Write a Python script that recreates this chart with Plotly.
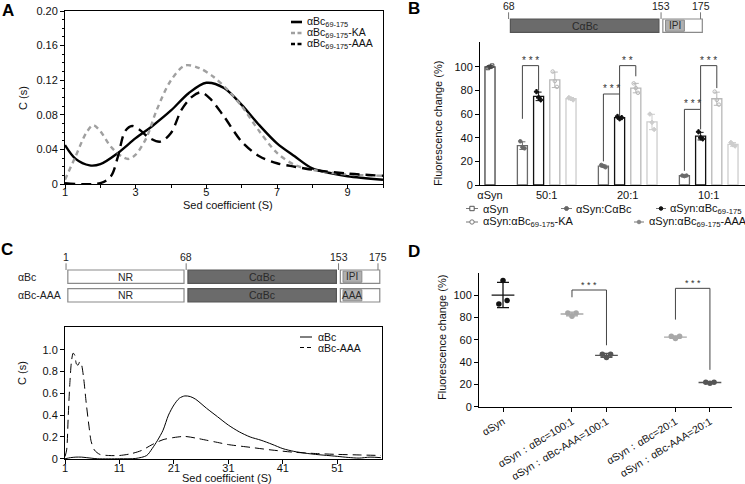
import numpy as np
import plotly.graph_objects as go

W, H = 745, 484
FONT = "Liberation Sans, Arial, Helvetica, sans-serif"


def px(x):
    return x / W


def py(y):
    return 1 - y / H


# ---------------- Panel A : sedimentation (alphaBc 69-175 variants) ----------------
A_SOLID_X = [1.0, 1.3, 1.7, 2.0, 2.5, 3.0, 3.5, 4.0, 4.5, 5.0, 5.5, 6.0, 6.5, 7.0, 7.5, 8.0, 8.5, 9.0, 10.0]
A_SOLID_Y = [0.045, 0.029, 0.0215, 0.023, 0.036, 0.053, 0.068, 0.085, 0.105, 0.117, 0.111, 0.0915, 0.068,
             0.047, 0.032, 0.018, 0.0127, 0.009, 0.005]
A_KA_X = [1.0, 1.3, 1.6, 1.8, 2.0, 2.3, 2.6, 2.8, 3.0, 3.3, 3.6, 4.0, 4.4, 4.8, 5.2, 5.6, 6.0, 6.5, 7.0, 7.5,
          8.0, 9.0, 10.0]
A_KA_Y = [0.005, 0.032, 0.059, 0.068, 0.061, 0.043, 0.032, 0.029, 0.034, 0.053, 0.086, 0.120, 0.137, 0.134,
          0.124, 0.109, 0.090, 0.061, 0.036, 0.022, 0.0165, 0.011, 0.0096]
A_AAA_X = [1.0, 2.0, 2.3, 2.5, 2.7, 2.9, 3.1, 3.4, 3.7, 4.0, 4.3, 4.6, 4.85, 5.1, 5.5, 6.0, 6.5, 7.0, 7.5,
           8.0, 9.0, 10.0]
A_AAA_Y = [0.001, 0.001, 0.009, 0.032, 0.061, 0.067, 0.063, 0.053, 0.049, 0.059, 0.086, 0.101, 0.106, 0.099,
           0.078, 0.049, 0.032, 0.024, 0.020, 0.0165, 0.012, 0.0096]
A_XTICKS = [1, 3, 5, 7, 9]
A_YTICKS = [0, 0.04, 0.08, 0.12, 0.16, 0.20]
A_YTEXT = ["0", "0.04", "0.08", "0.12", "0.16", "0.20"]
A_NAMES = ["αBc<sub>69-175</sub>", "αBc<sub>69-175</sub>-KA", "αBc<sub>69-175</sub>-AAA"]

# ---------------- Panel B : fluorescence bars ----------------
B_GROUPS = ["50:1", "20:1", "10:1"]
B_ASYN = [99, 100, 101]
B_CABC = [[37, 32, 31], [17, 16, 15], [8, 7.5, 8]]
B_ABC = [[79, 74, 72], [58, 56, 57], [45, 40, 39]]
B_KA = [[96, 88, 83], [86, 82, 78], [79, 72, 68]]
B_AAA = [[74, 73, 72], [60, 53, 47], [36, 34, 33]]
B_YTICKS = [0, 20, 40, 60, 80, 100]
B_NAMES = ["αSyn", "αSyn:CαBc", "αSyn:αBc<sub>69-175</sub>", "αSyn:αBc<sub>69-175</sub>-KA",
           "αSyn:αBc<sub>69-175</sub>-AAA"]
# significance brackets: (left bar, right bar, top, left end, right end, label)
B_BRACKETS = [
    ((0, 0), (0, 1), 101, 56, 80, "* * *"),
    ((1, 0), (1, 1), 77, 20, 58, "* * *"),
    ((1, 1), (1, 2), 101, 77, 92, "* *"),
    ((2, 0), (2, 1), 64, 12, 47, "* * *"),
    ((2, 1), (2, 2), 101, 64, 82, "* * *"),
]

# domain map (residue numbers)
DOMAIN_BOUNDS = [1, 68, 153, 175]
IPI_SPAN = [155.5, 166]

# ---------------- Panel C : sedimentation full length ----------------
C_ABC_X = [1, 2, 3, 4, 5, 7, 11, 14, 16, 17, 18, 19, 20, 21, 22, 23, 24, 25, 27, 29, 31, 33, 35, 37, 39, 41,
           43, 45, 47, 49, 51, 53, 55, 57, 59]
C_ABC_Y = [0.0, 0.01, 0.015, 0.015, 0.01, 0.0, 0.0, 0.003, 0.03, 0.093, 0.17, 0.262, 0.401, 0.494, 0.556,
           0.577, 0.571, 0.546, 0.463, 0.386, 0.309, 0.247, 0.200, 0.170, 0.133, 0.093, 0.068, 0.052, 0.040,
           0.031, 0.022, 0.012, 0.006, 0.015, 0.01]
C_AAA_X = [1.0, 1.3, 1.6, 1.9, 2.2, 2.5, 2.8, 3.1, 3.4, 3.7, 4.0, 4.4, 4.9, 5.4, 5.8, 6.4, 7.4, 9, 11, 13, 15,
           17, 19, 21, 23, 25, 27, 29, 31, 35, 39, 43, 47, 51, 55, 59]
C_AAA_Y = [0.02, 0.08, 0.40, 0.70, 0.90, 0.97, 0.95, 0.87, 0.86, 0.89, 0.87, 0.75, 0.51, 0.30, 0.16, 0.08,
           0.04, 0.03, 0.03, 0.045, 0.075, 0.13, 0.175, 0.195, 0.205, 0.19, 0.17, 0.15, 0.13, 0.105, 0.08,
           0.06, 0.048, 0.04, 0.035, 0.03]
C_XTICKS = [1, 11, 21, 31, 41, 51]
C_YTICKS = [0, 0.2, 0.4, 0.6, 0.8, 1.0]
C_YTEXT = ["0", "0.2", "0.4", "0.6", "0.8", "1.0"]
C_NAMES = ["αBc", "αBc-AAA"]

# ---------------- Panel D : dot plot ----------------
D_LABELS = ["αSyn", "αSyn：αBc=100:1", "αSyn：αBc-AAA=100:1", "αSyn：αBc=20:1", "αSyn：αBc-AAA=20:1"]
D_POS = [0, 2, 3, 5, 6]
D_VALUES = [[113, 95, 92], [84, 84, 81], [47, 47, 44], [63, 63, 61], [22, 22, 21]]
D_COLORS = ["#111111", "#a8a8a8", "#555555", "#a8a8a8", "#555555"]
D_BRACKETS = [(2, 3, 104.5, 98, 55), (5, 6, 106, 78, 33)]

fig = go.Figure()
shapes = []
annotations = []

# ---- Panel A traces ----
A_STYLES = [("black", None), ("#a0a0a0", "5px,4px"), ("black", "10px,6px")]
for xs, ys, name, (col, dash) in zip([A_SOLID_X, A_KA_X, A_AAA_X], [A_SOLID_Y, A_KA_Y, A_AAA_Y], A_NAMES,
                                     A_STYLES):
    fig.add_trace(go.Scatter(x=xs, y=ys, mode="lines", name=name, showlegend=False,
                             line=dict(color=col, width=2.4, dash=dash, shape="spline", smoothing=0.9),
                             xaxis="x", yaxis="y"))


def legend_key(x0, x1, y, color, width, dash, text, tx, size=10.5, marker=None):
    shapes.append(dict(type="line", xref="paper", yref="paper", x0=px(x0), x1=px(x1), y0=py(y), y1=py(y),
                       line=dict(color=color, width=width, dash=dash)))
    if marker:
        kind, mcol, fill, r = marker
        cx = (x0 + x1) / 2
        shapes.append(dict(type=kind, xref="paper", yref="paper", x0=px(cx - r), x1=px(cx + r),
                           y0=py(y + r), y1=py(y - r), fillcolor=fill, line=dict(color=mcol, width=1)))
    annotations.append(dict(x=px(tx), y=py(y), xref="paper", yref="paper", text=text, showarrow=False,
                            xanchor="left", yanchor="middle", font=dict(size=size, color="#111")))


A_LEG_Y = [22, 33, 44]
for (col, dash), name, y in zip(A_STYLES, A_NAMES, A_LEG_Y):
    legend_key(291, 302, y, col, 2.6, "4px,2.5px" if dash else None, name, 305)

# ---- Panel B traces ----
B_COLORS = ["#444444", "#6a6a6a", "#111111", "#b8b8b8", "#cdcdcd"]
B_SYMBOLS = ["square-open", "circle", "cross", "circle-open", "diamond"]
OFFS = [-0.13, 0.0, 0.13]


def bar_trace(xs, reps, color, symbol):
    reps = np.array(reps, dtype=float)
    means = reps.mean(axis=1)
    sds = reps.std(axis=1, ddof=1)
    fig.add_trace(go.Bar(x=xs, y=means, width=0.62, marker=dict(color="white", line=dict(color=color, width=1.3)),
                         error_y=dict(type="data", array=sds, color=color, thickness=1, width=3),
                         showlegend=False, xaxis="x2", yaxis="y2"))
    dx, dy = [], []
    for x, r in zip(xs, reps):
        for o, v in zip(OFFS, r):
            dx.append(x + o)
            dy.append(v)
    fig.add_trace(go.Scatter(x=dx, y=dy, mode="markers",
                             marker=dict(color=color, size=3.5, symbol=symbol, line=dict(color=color, width=1)),
                             showlegend=False, xaxis="x2", yaxis="y2"))


bar_trace([0], [B_ASYN], B_COLORS[0], B_SYMBOLS[0])
bar_pos = {}
for k, reps in enumerate([B_CABC, B_ABC, B_KA, B_AAA]):
    xs = [2 + 5 * g + k for g in range(len(B_GROUPS))]
    for g, x in enumerate(xs):
        bar_pos[(g, k)] = x
    bar_trace(xs, reps, B_COLORS[k + 1], B_SYMBOLS[k + 1])

# B legend (two rows)
B_LEG = [(466, 478, 208.5, 481), (561, 572, 208.5, 574), (656, 666, 208.5, 668), (466, 478, 222, 481),
         (634, 644, 222, 647)]
B_LEG_MARK = [("rect", "#555", "white", 2.2), ("circle", "#666", "#666", 2), ("circle", "#111", "#111", 1.8),
              ("circle", "#777", "white", 2.2), ("circle", "#888", "#888", 1.8)]
for (x0, x1, y, tx), name, mk in zip(B_LEG, B_NAMES, B_LEG_MARK):
    legend_key(x0, x1, y, "#777777", 1, None, name, tx, size=11, marker=mk)

for (lb, rb, top, yl, yr, lab) in B_BRACKETS:
    x0, x1 = bar_pos[lb], bar_pos[rb]
    shapes.append(dict(type="path", xref="x2", yref="y2",
                       path=f"M {x0},{yl} L {x0},{top} L {x1},{top} L {x1},{yr}",
                       line=dict(color="#444444", width=1)))
    annotations.append(dict(x=(x0 + x1) / 2, y=top, xref="x2", yref="y2", text=lab, showarrow=False,
                            xanchor="center", yanchor="bottom", font=dict(size=10, color="#333"), yshift=-2))

# ---- Panel C traces ----
C_STYLES = [None, "9px,5px"]
for xs, ys, name, dash in zip([C_ABC_X, C_AAA_X], [C_ABC_Y, C_AAA_Y], C_NAMES, C_STYLES):
    fig.add_trace(go.Scatter(x=xs, y=ys, mode="lines", name=name, showlegend=False,
                             line=dict(color="black", width=1, dash=dash, shape="spline", smoothing=0.8),
                             xaxis="x3", yaxis="y3"))
for name, dash, y in zip(C_NAMES, C_STYLES, [337, 347.5]):
    legend_key(300, 312, y, "black", 1, "4px,3px" if dash else None, name, 316)

# ---- Panel D traces ----
D_OFFS = [[0, 0.12, -0.12], [-0.12, 0.12, 0], [-0.12, 0.12, 0], [-0.12, 0.12, 0], [-0.12, 0.12, 0]]
for pos, vals, color, offs in zip(D_POS, D_VALUES, D_COLORS, D_OFFS):
    v = np.array(vals, dtype=float)
    m, sd = v.mean(), v.std(ddof=1)
    fig.add_trace(go.Scatter(x=[pos - 0.33, pos + 0.33], y=[m, m], mode="lines",
                             line=dict(color=color, width=1.3), showlegend=False, xaxis="x4", yaxis="y4"))
    fig.add_trace(go.Scatter(x=[pos], y=[m], mode="markers", marker=dict(size=0.1, color=color),
                             error_y=dict(type="data", array=[sd], color=color, thickness=1.3, width=6),
                             showlegend=False, xaxis="x4", yaxis="y4"))
    fig.add_trace(go.Scatter(x=[pos + o for o in offs], y=vals, mode="markers",
                             marker=dict(size=5.5, color=color), showlegend=False, xaxis="x4", yaxis="y4"))
for (x0, x1, top, yl, yr) in D_BRACKETS:
    shapes.append(dict(type="path", xref="x4", yref="y4",
                       path=f"M {x0},{yl} L {x0},{top} L {x1},{top} L {x1},{yr}",
                       line=dict(color="#444444", width=1)))
    annotations.append(dict(x=(x0 + x1) / 2, y=top, xref="x4", yref="y4", text="* * *", showarrow=False,
                            xanchor="center", yanchor="bottom", font=dict(size=9, color="#333"), yshift=-2))


# ---- domain diagrams ----
def domain_row(xref, yref, row, motif_label, show_nr=True):
    hh = 0.36
    segs = list(zip(DOMAIN_BOUNDS[:-1], DOMAIN_BOUNDS[1:]))
    fills = ["white", "#6b6b6b", "white"]
    texts = ["NR", "CαBc", None]
    lines = ["#8a8a8a", "#555555", "#8a8a8a"]
    for i, ((a, b), f, t, lc) in enumerate(zip(segs, fills, texts, lines)):
        if i == 0 and not show_nr:
            continue
        a0 = a + 1.0
        b0 = b - 1.2 if i < 2 else b + 1.0
        shapes.append(dict(type="rect", xref=xref, yref=yref, x0=a0, x1=b0, y0=row - hh, y1=row + hh,
                           fillcolor=f, line=dict(color=lc, width=1.2), layer="above"))
        if t:
            annotations.append(dict(x=(a0 + b0) / 2, y=row, xref=xref, yref=yref, text=t, showarrow=False,
                                    xanchor="center", yanchor="middle", font=dict(size=10.5, color="#2a2a2a")))
    shapes.append(dict(type="rect", xref=xref, yref=yref, x0=IPI_SPAN[0], x1=IPI_SPAN[1], y0=row - hh + 0.06,
                       y1=row + hh - 0.06, fillcolor="#b0b0b0", line=dict(color="#8a8a8a", width=1), layer="above"))
    annotations.append(dict(x=sum(IPI_SPAN) / 2, y=row, xref=xref, yref=yref, text=motif_label, showarrow=False,
                            xanchor="center", yanchor="middle", font=dict(size=10, color="#2a2a2a")))


def domain_ticks(xref, yref, row, values):
    hh = 0.36
    for v in values:
        shapes.append(dict(type="line", xref=xref, yref=yref, x0=v, x1=v, y0=row - hh, y1=row - hh - 0.36,
                           line=dict(color="#777777", width=1)))
        annotations.append(dict(x=v, y=row - hh - 0.36, xref=xref, yref=yref, text=str(v), showarrow=False,
                                xanchor="center", yanchor="bottom", yshift=-2,
                                font=dict(size=10.5, color="#222")))


domain_row("x5", "y5", 0, "IPI", show_nr=False)
domain_ticks("x5", "y5", 0, DOMAIN_BOUNDS[1:])
domain_row("x6", "y6", 0, "IPI")
domain_row("x6", "y6", 1, "AAA")
domain_ticks("x6", "y6", 0, DOMAIN_BOUNDS)
for row, lab in [(0, "αBc"), (1, "αBc-AAA")]:
    annotations.append(dict(x=px(16), y=row, xref="paper", yref="y6", text=lab, showarrow=False,
                            xanchor="left", yanchor="middle", font=dict(size=10.5, color="#222")))

# ---- panel letters & axis titles ----
for t, x, y in [("A", 8, 10), ("B", 414, 9), ("C", 7, 250), ("D", 414, 251)]:
    annotations.append(dict(x=px(x), y=py(y), xref="paper", yref="paper", text=f"<b>{t}</b>",
                            xanchor="center", yanchor="middle",
                            showarrow=False, font=dict(size=17, color="black")))
for t, x, y, ang in [("C (s)", 23, 98, -90), ("Sed coefficient (S)", 228, 204.5, 0),
                     ("Fluorescence change (%)", 438, 124, -90), ("C (s)", 22, 373, -90),
                     ("Sed coefficient (S)", 227, 478, 0), ("Fluorescence change (%)", 442, 338, -90)]:
    annotations.append(dict(x=px(x), y=py(y), xref="paper", yref="paper", text=t, textangle=ang,
                            xanchor="center", yanchor="middle",
                            showarrow=False, font=dict(size=11, color="#111")))

axcommon = dict(showline=True, linecolor="black", linewidth=1, showgrid=False, zeroline=False,
                ticks="outside", ticklen=4, tickcolor="black", tickfont=dict(size=11, color="#111"))
boxed = dict(axcommon, mirror=True)

fig.update_layout(
    width=W, height=H, margin=dict(l=0, r=0, t=0, b=0, pad=0, autoexpand=False),
    paper_bgcolor="white", plot_bgcolor="rgba(0,0,0,0)",
    font=dict(family=FONT, color="#111", size=11),
    barmode="overlay", showlegend=False,
    xaxis=dict(boxed, domain=[px(65), px(383)], range=[1, 10], tickvals=A_XTICKS, anchor="y",
               ticklabelstandoff=-6,
               minor=dict(dtick=1, tick0=0, ticks="outside", ticklen=2.5, tickcolor="black")),
    yaxis=dict(boxed, domain=[py(184), py(11)], range=[0, 0.2], tickvals=A_YTICKS, ticktext=A_YTEXT,
               anchor="x", minor=dict(dtick=0.01, tick0=0, ticks="outside", ticklen=2.5, tickcolor="black")),
    xaxis2=dict(axcommon, domain=[px(480), 1], range=[-0.617, 15.74], tickvals=[0, 3.5, 8.5, 13.5],
                ticktext=["αSyn"] + B_GROUPS, ticks="", ticklabelstandoff=0, anchor="y2"),
    yaxis2=dict(axcommon, domain=[py(185), py(42)], range=[0, 121], tickvals=B_YTICKS, anchor="x2"),
    xaxis3=dict(boxed, domain=[px(65), px(382)], range=[1, 59.2], tickvals=C_XTICKS, anchor="y3",
                ticklabelstandoff=-6),
    yaxis3=dict(boxed, domain=[py(459.3), py(327)], range=[-0.005, 1.21], tickvals=C_YTICKS,
                ticktext=C_YTEXT, anchor="x3"),
    xaxis4=dict(axcommon, domain=[px(479), px(732)], range=[-0.696, 6.64], tickvals=D_POS, ticktext=D_LABELS,
                tickangle=-31, tickfont=dict(size=10.5, color="#111"), anchor="y4"),
    yaxis4=dict(axcommon, domain=[py(406.7), py(272.7)], range=[0, 120], tickvals=B_YTICKS, anchor="x4"),
    xaxis5=dict(visible=False, domain=[px(480), 1], range=[52.06, 199.8], anchor="y5", fixedrange=True),
    yaxis5=dict(visible=False, domain=[py(40), 1], range=[0.769, -1.382], anchor="x5", fixedrange=True),
    xaxis6=dict(visible=False, domain=[px(60), px(390)], range=[-2.37, 181.7], anchor="y6", fixedrange=True),
    yaxis6=dict(visible=False, domain=[py(310), py(250)], range=[1.79, -1.435], anchor="x6", fixedrange=True),
    shapes=shapes, annotations=annotations,
)

fig.write_html("out.html", config={"displayModeBar": False},
               post_script="document.body.style.margin='0px';document.body.style.overflow='hidden';")
